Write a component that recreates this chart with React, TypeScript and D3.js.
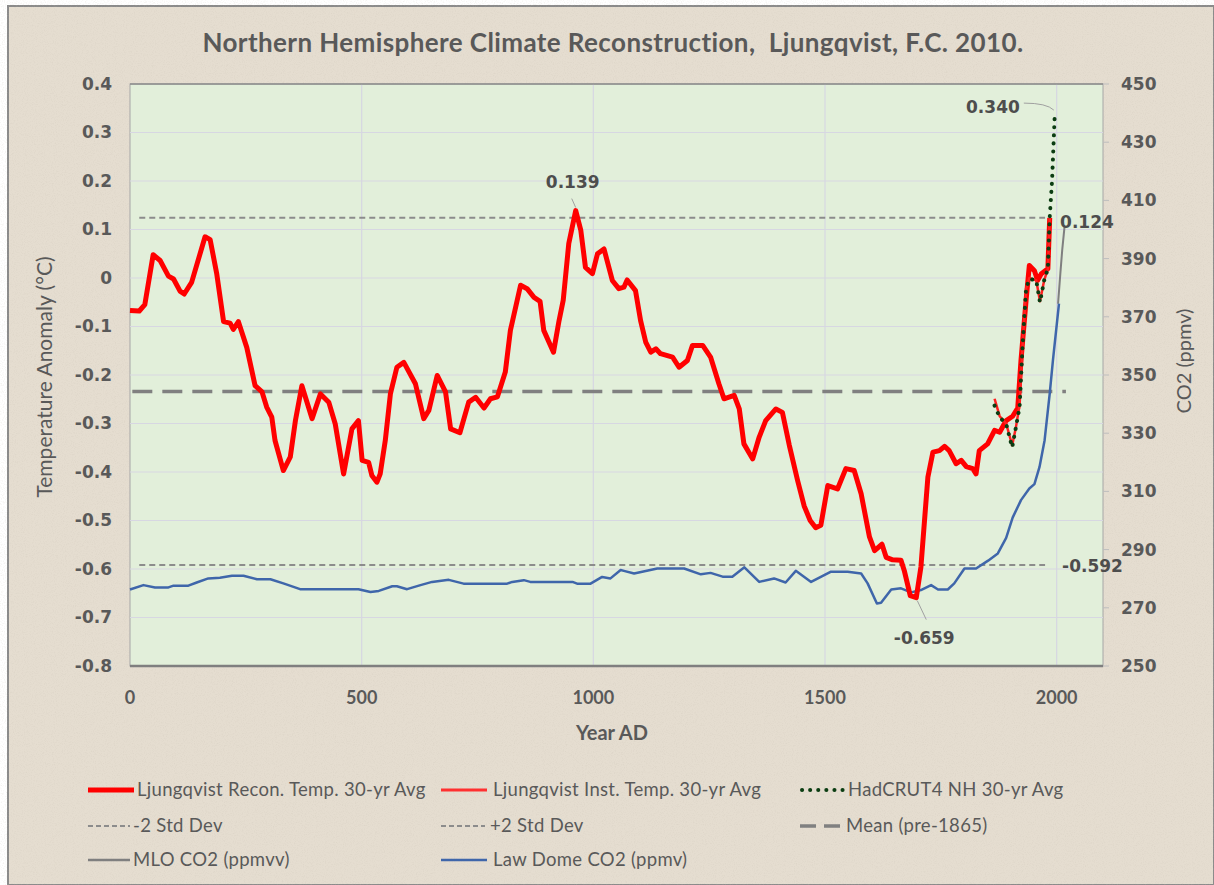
import React, { useEffect, useRef } from 'react';
import * as d3 from 'd3';

// Ljungqvist 2010 reconstruction, 30-yr average (°C anomaly)
const reconYears = [0, 20, 32, 50, 65, 83, 94, 108, 117, 133, 162, 173, 187, 202, 216, 223, 234, 252, 270, 285, 295, 306, 313, 331, 346, 357, 371, 393, 411, 429, 443, 461, 479, 493, 501, 515, 522, 533, 540, 551, 562, 576, 591, 616, 634, 645, 663, 681, 692, 712, 731, 746, 764, 778, 793, 810, 821, 843, 857, 872, 885, 893, 914, 926, 935, 947, 962, 973, 983, 998, 1009, 1023, 1041, 1055, 1066, 1073, 1091, 1102, 1113, 1124, 1135, 1145, 1171, 1185, 1203, 1214, 1236, 1253, 1271, 1282, 1304, 1315, 1325, 1344, 1358, 1372, 1394, 1408, 1423, 1441, 1455, 1468, 1480, 1491, 1506, 1527, 1545, 1563, 1578, 1596, 1607, 1623, 1632, 1646, 1664, 1671, 1684, 1697, 1707, 1722, 1733, 1747, 1758, 1768, 1783, 1794, 1805, 1819, 1826, 1833, 1851, 1866, 1877, 1891, 1905, 1916, 1923, 1934, 1941, 1952, 1959, 1967, 1981, 1985];
const reconTemps = [-0.067, -0.068, -0.055, 0.048, 0.036, 0.004, -0.002, -0.027, -0.033, -0.009, 0.085, 0.079, 0.010, -0.090, -0.093, -0.106, -0.090, -0.143, -0.222, -0.235, -0.266, -0.287, -0.335, -0.397, -0.369, -0.294, -0.222, -0.290, -0.239, -0.256, -0.301, -0.404, -0.311, -0.294, -0.376, -0.380, -0.407, -0.421, -0.404, -0.335, -0.239, -0.184, -0.174, -0.218, -0.290, -0.273, -0.201, -0.235, -0.311, -0.319, -0.256, -0.246, -0.268, -0.249, -0.245, -0.194, -0.108, -0.015, -0.022, -0.040, -0.048, -0.108, -0.153, -0.088, -0.046, 0.071, 0.139, 0.098, 0.022, 0.009, 0.050, 0.060, -0.005, -0.022, -0.019, -0.004, -0.026, -0.088, -0.132, -0.153, -0.146, -0.156, -0.163, -0.184, -0.170, -0.139, -0.139, -0.163, -0.218, -0.249, -0.242, -0.270, -0.342, -0.373, -0.328, -0.294, -0.270, -0.277, -0.345, -0.418, -0.470, -0.500, -0.515, -0.510, -0.428, -0.435, -0.393, -0.397, -0.445, -0.534, -0.562, -0.549, -0.576, -0.581, -0.582, -0.603, -0.655, -0.659, -0.596, -0.411, -0.359, -0.356, -0.347, -0.356, -0.383, -0.376, -0.389, -0.393, -0.404, -0.356, -0.342, -0.314, -0.318, -0.294, -0.285, -0.268, -0.170, -0.046, 0.026, 0.015, -0.005, 0.009, 0.019, 0.124];

// Ljungqvist instrumental 30-yr average
const instYears = [1866, 1877, 1891, 1904, 1912, 1920, 1927, 1934, 1941, 1956, 1964, 1973, 1981, 1985];
const instTemps = [-0.249, -0.285, -0.300, -0.345, -0.308, -0.262, -0.129, -0.022, 0.000, -0.005, -0.048, -0.005, 0.019, 0.124];

// HadCRUT4 NH 30-yr average
const hadYears = [1866, 1877, 1891, 1904, 1912, 1920, 1927, 1934, 1941, 1956, 1964, 1973, 1981, 1985, 1990, 1996];
const hadTemps = [-0.263, -0.287, -0.301, -0.349, -0.308, -0.266, -0.129, -0.022, -0.002, -0.005, -0.050, -0.005, 0.019, 0.125, 0.200, 0.340];

// reference lines
const stdYears = [20, 1975];
const minusTwoStd = -0.592;
const plusTwoStd = 0.124;
const meanYears = [5, 2020];
const meanPre1865 = -0.234;

// CO2 (ppmv)
const lawDomeYears = [0, 29, 54, 83, 94, 126, 144, 169, 194, 220, 245, 274, 303, 331, 367, 411, 493, 519, 537, 566, 576, 598, 627, 652, 688, 720, 814, 825, 850, 864, 955, 965, 994, 1019, 1037, 1059, 1066, 1088, 1138, 1196, 1232, 1253, 1279, 1300, 1326, 1358, 1390, 1415, 1437, 1470, 1513, 1549, 1578, 1592, 1612, 1621, 1643, 1664, 1686, 1707, 1729, 1744, 1765, 1779, 1801, 1826, 1852, 1873, 1891, 1905, 1923, 1941, 1952, 1963, 1974, 1985, 1992, 2005];
const lawDomeCO2 = [276.3, 277.8, 277.0, 277.0, 277.6, 277.6, 278.7, 280.1, 280.3, 281.0, 281.0, 279.8, 279.8, 278.4, 276.4, 276.4, 276.4, 275.4, 275.8, 277.4, 277.4, 276.4, 277.8, 278.9, 279.6, 278.3, 278.3, 278.9, 279.5, 278.9, 278.9, 278.3, 278.3, 280.6, 280.1, 283.0, 282.7, 281.8, 283.5, 283.5, 281.5, 282.0, 280.7, 280.7, 283.9, 278.9, 280.1, 278.7, 282.7, 278.9, 282.4, 282.4, 281.8, 278.4, 271.5, 271.7, 276.3, 276.7, 275.3, 276.1, 277.8, 276.3, 276.3, 278.4, 283.5, 283.5, 286.2, 288.7, 294.0, 301.0, 307.0, 311.0, 312.5, 318.4, 327.6, 343.6, 355.1, 374.5];
const mloYears = [2003, 2008, 2012, 2017];
const mloCO2 = [374.5, 385.0, 393.0, 401.0];

const tempTicks = [-0.8, -0.7, -0.6, -0.5, -0.4, -0.3, -0.2, -0.1, 0, 0.1, 0.2, 0.3, 0.4];
const co2Ticks = [250, 270, 290, 310, 330, 350, 370, 390, 410, 430, 450];
const yearTicks = [0, 500, 1000, 1500, 2000];

const legendLabels = [
  'Ljungqvist Recon. Temp. 30-yr Avg',
  'Ljungqvist Inst. Temp. 30-yr Avg',
  'HadCRUT4 NH 30-yr Avg',
  '-2 Std Dev',
  '+2 Std Dev',
  'Mean (pre-1865)',
  'MLO CO2 (ppmvv)',
  'Law Dome CO2 (ppmv)',
];

// plain hyphen instead of d3's unicode minus
const fmt = (spec: string) => (v: number) => d3.format(spec)(v).replace('\u2212', '-');

const App = () => {
  const svgRef = useRef<SVGSVGElement>(null);

  useEffect(() => {
    const svg = d3.select(svgRef.current);
    svg.selectAll('*').remove();

    const width = 1214;
    const height = 885;
    const plot = { left: 130, right: 1103, top: 84, bottom: 666 };
    const grey = '#595959';
    const narrow = 'Lato, "Open Sans", sans-serif';
    const verdana = '"DejaVu Sans", Verdana, sans-serif';

    svg.attr('width', width).attr('height', height);

    const x = d3.scaleLinear().domain([0, 2100]).range([plot.left, plot.right]);
    const y = d3.scaleLinear().domain([-0.8, 0.4]).range([plot.bottom, plot.top]);
    const y2 = d3.scaleLinear().domain([250, 450]).range([plot.bottom, plot.top]);

    // paper background
    const defs = svg.append('defs');
    const filt = defs.append('filter').attr('id', 'paper');
    filt.append('feTurbulence').attr('type', 'fractalNoise').attr('baseFrequency', '0.9').attr('numOctaves', 2).attr('result', 'n');
    filt.append('feColorMatrix').attr('type', 'matrix')
      .attr('values', '0 0 0 0 0.55  0 0 0 0 0.5  0 0 0 0 0.42  0 0 0 -1.4 0.75');

    svg.append('rect').attr('width', width).attr('height', height).attr('fill', '#ffffff');
    svg.append('rect').attr('x', 8).attr('y', 6).attr('width', width - 8).attr('height', height - 6)
      .attr('fill', '#e5ddd0').attr('stroke', '#8a8a8a').attr('stroke-width', 2);
    svg.append('rect').attr('x', 9).attr('y', 7).attr('width', width - 9).attr('height', height - 7)
      .attr('filter', 'url(#paper)').attr('opacity', 0.35);

    // title
    svg.append('text')
      .attr('x', 613).attr('y', 52)
      .attr('text-anchor', 'middle')
      .attr('xml:space', 'preserve')
      .style('font-family', narrow).style('font-size', '26px').style('font-weight', 700)
      .style('letter-spacing', '0.4px')
      .attr('fill', grey)
      .text('Northern Hemisphere Climate Reconstruction,  Ljungqvist, F.C. 2010.');

    // plot area
    svg.append('rect')
      .attr('x', plot.left).attr('y', plot.top)
      .attr('width', plot.right - plot.left).attr('height', plot.bottom - plot.top)
      .attr('fill', '#e2efda').attr('stroke', '#a6a6a6').attr('stroke-width', 1);

    const grid = svg.append('g');
    grid.selectAll('line.h').data(tempTicks.filter(t => t > -0.8 && t < 0.4)).enter().append('line')
      .attr('x1', plot.left).attr('x2', plot.right)
      .attr('y1', d => y(d)).attr('y2', d => y(d))
      .attr('stroke', '#d7d7e2').attr('stroke-width', 1.2);
    grid.selectAll('line.v').data(yearTicks.filter(t => t > 0)).enter().append('line')
      .attr('x1', d => x(d)).attr('x2', d => x(d))
      .attr('y1', plot.top).attr('y2', plot.bottom)
      .attr('stroke', '#d7d7e2').attr('stroke-width', 1.2);

    svg.append('line')
      .attr('x1', plot.left).attr('x2', plot.right).attr('y1', plot.top).attr('y2', plot.top)
      .attr('stroke', '#8c8c8c').attr('stroke-width', 1.5);
    svg.append('line')
      .attr('x1', plot.left).attr('x2', plot.right).attr('y1', plot.bottom).attr('y2', plot.bottom)
      .attr('stroke', '#7f7f7f').attr('stroke-width', 2.5);

    // left axis
    svg.append('g').selectAll('text').data(tempTicks).enter().append('text')
      .attr('x', 112).attr('y', d => y(d)).attr('dy', '0.35em')
      .attr('text-anchor', 'end')
      .style('font-family', verdana).style('font-size', '17px').style('font-weight', 700)
      .attr('fill', grey)
      .text(d => (d === 0 ? '0' : fmt('.1f')(d)));

    // right axis
    svg.append('g').selectAll('line').data(co2Ticks).enter().append('line')
      .attr('x1', plot.right).attr('x2', plot.right + 6)
      .attr('y1', d => y2(d)).attr('y2', d => y2(d))
      .attr('stroke', '#bdbdbd').attr('stroke-width', 1);
    svg.append('g').selectAll('text').data(co2Ticks).enter().append('text')
      .attr('x', 1121).attr('y', d => y2(d)).attr('dy', '0.35em')
      .style('font-family', verdana).style('font-size', '17px').style('font-weight', 700)
      .attr('fill', grey)
      .text(d => String(d));

    // bottom axis
    svg.append('g').selectAll('text').data(yearTicks).enter().append('text')
      .attr('x', d => x(d)).attr('y', 704)
      .attr('text-anchor', 'middle')
      .style('font-family', narrow).style('font-size', '18px').style('font-weight', 700)
      .attr('fill', grey)
      .text(d => String(d));

    svg.append('text')
      .attr('x', 612).attr('y', 740).attr('text-anchor', 'middle')
      .style('font-family', narrow).style('font-size', '20px').style('font-weight', 700)
      .attr('fill', grey).text('Year AD');

    svg.append('text')
      .attr('transform', `translate(52, ${(plot.top + plot.bottom) / 2 + 2}) rotate(-90)`)
      .attr('text-anchor', 'middle')
      .style('font-family', narrow).style('font-size', '21px')
      .attr('fill', grey).text('Temperature Anomaly (°C)');

    svg.append('text')
      .attr('transform', `translate(1191, ${(plot.top + plot.bottom) / 2 - 14}) rotate(-90)`)
      .attr('text-anchor', 'middle')
      .style('font-family', narrow).style('font-size', '20px')
      .attr('fill', grey).text('CO2 (ppmv)');

    // series
    const tLine = d3.line<[number, number]>().x(d => x(d[0])).y(d => y(d[1]));
    const cLine = d3.line<[number, number]>().x(d => x(d[0])).y(d => y2(d[1]));
    const zip = (a: number[], b: number[]) => a.map((v, i) => [v, b[i]] as [number, number]);

    const series = svg.append('g').attr('fill', 'none');

    series.append('path').attr('d', tLine(zip(stdYears, stdYears.map(() => minusTwoStd))))
      .attr('stroke', '#8c8c8c').attr('stroke-width', 2).attr('stroke-dasharray', '6,4');
    series.append('path').attr('d', tLine(zip(stdYears, stdYears.map(() => plusTwoStd))))
      .attr('stroke', '#8c8c8c').attr('stroke-width', 2).attr('stroke-dasharray', '6,4');
    series.append('path').attr('d', tLine(zip(meanYears, meanYears.map(() => meanPre1865))))
      .attr('stroke', '#808080').attr('stroke-width', 3.5).attr('stroke-dasharray', '20,10');

    series.append('path').attr('d', cLine(zip(mloYears, mloCO2)))
      .attr('stroke', '#7f7f7f').attr('stroke-width', 2).attr('stroke-linejoin', 'round');
    series.append('path').attr('d', cLine(zip(lawDomeYears, lawDomeCO2)))
      .attr('stroke', '#3f66aa').attr('stroke-width', 2.5).attr('stroke-linejoin', 'round');

    series.append('path').attr('d', tLine(zip(reconYears, reconTemps)))
      .attr('stroke', '#ff0000').attr('stroke-width', 5).attr('stroke-linejoin', 'round');
    series.append('path').attr('d', tLine(zip(instYears, instTemps)))
      .attr('stroke', '#ff2020').attr('stroke-width', 2.5).attr('stroke-linejoin', 'round');
    series.append('path').attr('d', tLine(zip(hadYears, hadTemps)))
      .attr('stroke', '#0b3d12').attr('stroke-width', 4)
      .attr('stroke-linecap', 'round').attr('stroke-dasharray', '0.1,8');

    // data labels with leader lines
    const labelStyle = (t: d3.Selection<SVGTextElement, unknown, null, undefined>) =>
      t.style('font-family', verdana).style('font-size', '17px').style('font-weight', 700).attr('fill', '#4d4d4d');
    const f3 = fmt('.3f');

    const peakIdx = reconTemps.indexOf(d3.max(reconTemps) as number);
    const lowIdx = reconTemps.indexOf(d3.min(reconTemps) as number);
    const px = x(reconYears[peakIdx]);
    const py = y(reconTemps[peakIdx]);
    svg.append('line').attr('x1', px - 4).attr('y1', py - 12).attr('x2', px).attr('y2', py - 3)
      .attr('stroke', '#a0a0a0').attr('stroke-width', 1);
    svg.append('text').attr('x', px - 3).attr('y', py - 23).attr('text-anchor', 'middle')
      .call(labelStyle).text(f3(reconTemps[peakIdx]));

    const lx = x(reconYears[lowIdx]);
    const ly = y(reconTemps[lowIdx]);
    svg.append('line').attr('x1', lx + 1).attr('y1', ly + 3).attr('x2', lx + 10).attr('y2', ly + 22)
      .attr('stroke', '#a0a0a0').attr('stroke-width', 1);
    svg.append('text').attr('x', lx + 8).attr('y', ly + 46).attr('text-anchor', 'middle')
      .call(labelStyle).text(f3(reconTemps[lowIdx]));

    const hx = x(hadYears[hadYears.length - 1]);
    const hy = y(hadTemps[hadTemps.length - 1]);
    svg.append('path')
      .attr('d', `M${hx - 31},${hy - 10} Q${hx - 8},${hy - 10} ${hx - 1},${hy - 3}`)
      .attr('fill', 'none').attr('stroke', '#a0a0a0').attr('stroke-width', 1);
    svg.append('text').attr('x', hx - 35).attr('y', hy).attr('text-anchor', 'end')
      .call(labelStyle).text(f3(hadTemps[hadTemps.length - 1]));

    svg.append('text').attr('x', x(stdYears[1]) + 15).attr('y', y(plusTwoStd) + 10)
      .call(labelStyle).text(f3(plusTwoStd));
    svg.append('text').attr('x', x(stdYears[1]) + 17).attr('y', y(minusTwoStd) + 7)
      .call(labelStyle).text(f3(minusTwoStd));

    // legend
    const colX = [88, 441, 800];
    const rowY = [790, 826, 860];
    const symbols: ((g: d3.Selection<SVGGElement, unknown, null, undefined>) => void)[] = [
      g => { g.append('line').attr('x2', 46).attr('stroke', '#ff0000').attr('stroke-width', 5); },
      g => { g.append('line').attr('x2', 46).attr('stroke', '#ff3030').attr('stroke-width', 3); },
      g => { g.append('line').attr('x1', 2).attr('x2', 44).attr('stroke', '#0b3d12').attr('stroke-width', 4).attr('stroke-linecap', 'round').attr('stroke-dasharray', '0.1,8'); },
      g => { g.append('line').attr('x2', 42).attr('stroke', '#8c8c8c').attr('stroke-width', 2).attr('stroke-dasharray', '5,3'); },
      g => { g.append('line').attr('x2', 44).attr('stroke', '#8c8c8c').attr('stroke-width', 2).attr('stroke-dasharray', '5,3'); },
      g => { g.append('line').attr('x2', 42).attr('stroke', '#808080').attr('stroke-width', 3.5).attr('stroke-dasharray', '16,8'); },
      g => { g.append('line').attr('x2', 42).attr('stroke', '#7f7f7f').attr('stroke-width', 2.5); },
      g => { g.append('line').attr('x2', 46).attr('stroke', '#3f66aa').attr('stroke-width', 2.5); },
    ];
    const textGap = [49, 52, 48, 45, 49, 46, 45, 52];

    legendLabels.forEach((label, i) => {
      const g = svg.append('g').attr('transform', `translate(${colX[i % 3]}, ${rowY[Math.floor(i / 3)]})`);
      symbols[i](g);
      g.append('text').attr('x', textGap[i]).attr('dy', '0.35em')
        .style('font-family', narrow).style('font-size', '18.5px').style('letter-spacing', '0.3px')
        .attr('fill', grey).text(label);
    });
  }, []);

  return (
    <div style={{ position: 'absolute', left: 0, top: 0 }}>
      <svg ref={svgRef}></svg>
    </div>
  );
};

export default App;
